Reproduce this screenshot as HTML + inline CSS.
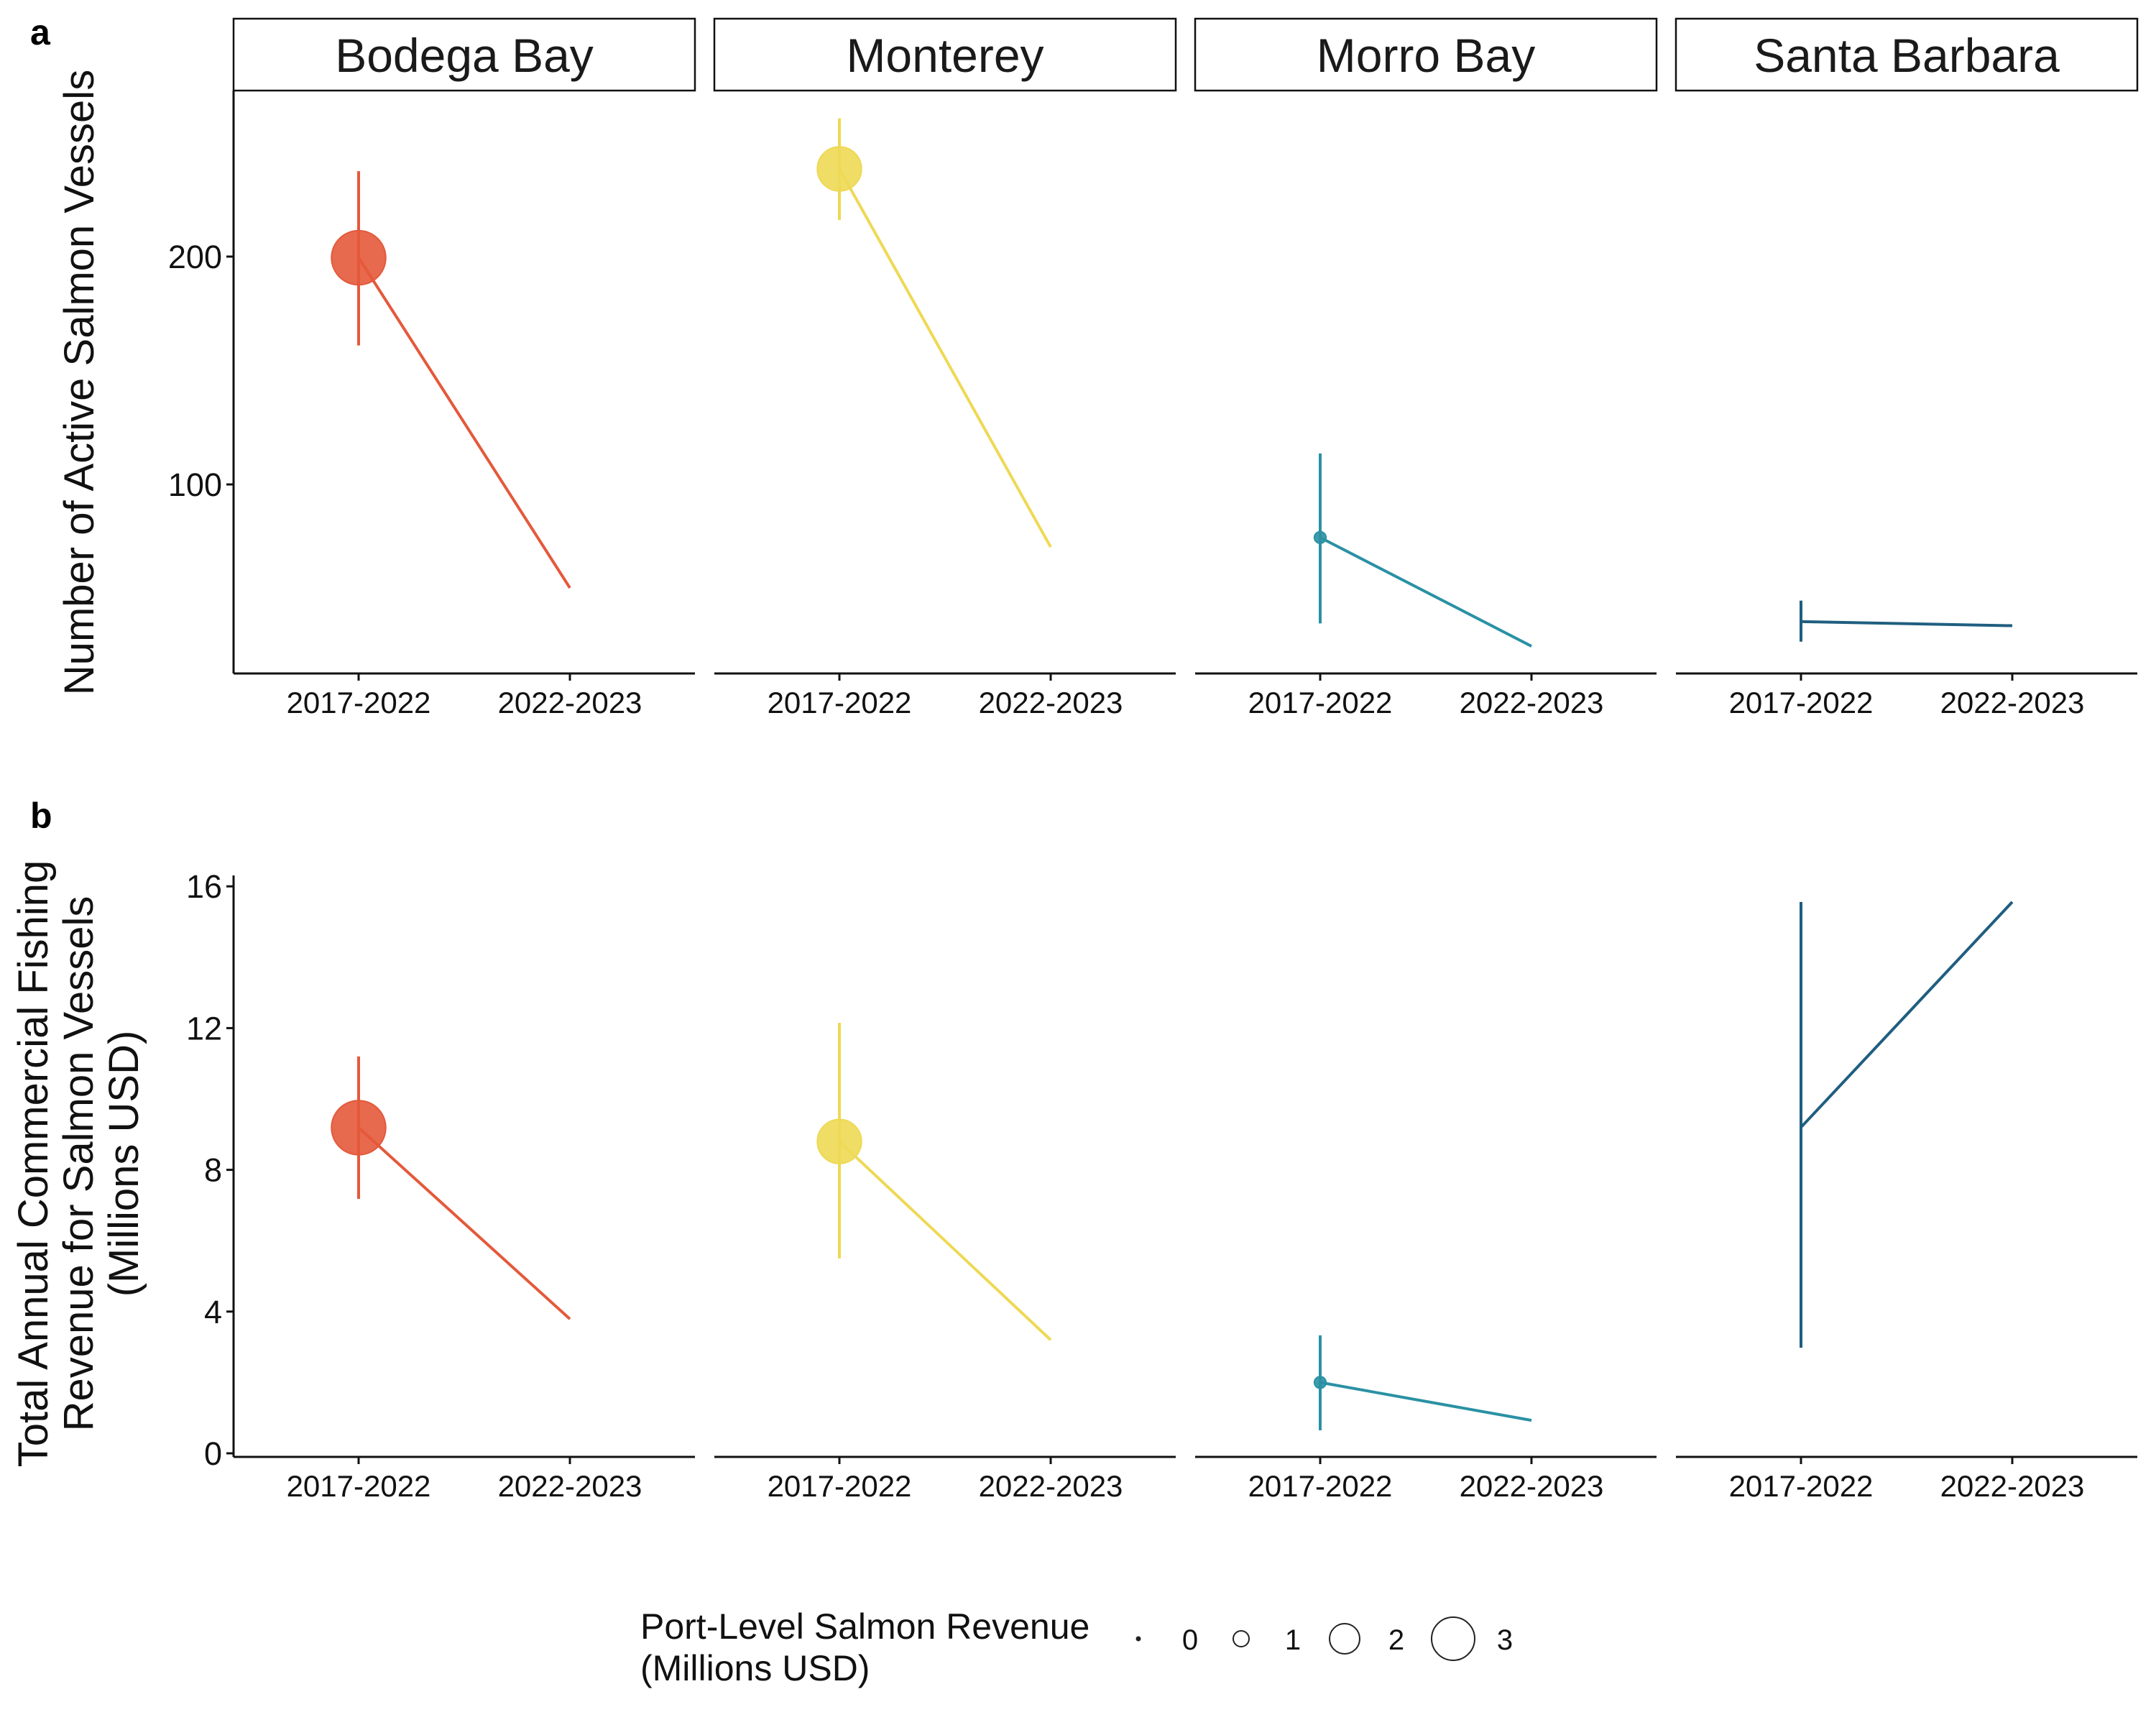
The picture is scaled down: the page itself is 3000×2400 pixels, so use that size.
<!DOCTYPE html>
<html><head><meta charset="utf-8">
<style>
html,body{margin:0;padding:0;background:#fff;}
svg{display:block;font-family:"Liberation Sans",Arial,sans-serif;}
</style></head>
<body>
<svg id="chart" width="3000" height="2400" viewBox="0 0 3000 2400" xmlns="http://www.w3.org/2000/svg">
  <text x="42" y="62" font-size="50" font-weight="bold">a</text>
  <text x="42" y="1152" font-size="50" font-weight="bold">b</text>
  <text transform="translate(130,532) rotate(-90)" text-anchor="middle" font-size="58" fill="#111">Number of Active Salmon Vessels</text>
  <g transform="translate(0,1619) rotate(-90)" text-anchor="middle" font-size="58" fill="#111">
    <text x="0" y="66">Total Annual Commercial Fishing</text>
    <text x="0" y="129">Revenue for Salmon Vessels</text>
    <text x="0" y="192">(Millions USD)</text>
  </g>
  <g id="panels"></g>
  <g id="legend">
    <text x="891" y="2280" font-size="50" fill="#111">Port-Level Salmon Revenue</text>
    <text x="891" y="2338" font-size="50" fill="#111">(Millions USD)</text>
  </g>
</svg>
<script>
const ports = ["Bodega Bay","Monterey","Morro Bay","Santa Barbara"];
const periods = ["2017-2022","2022-2023"];
const colors = ["#e4593b","#eed955","#2a91a4","#1f5e80"];
const vesselMean = [[199.5,54.6],[238.5,72.5],[76.7,29],[39.8,38]];
const vesselLo = [161,216,39,31];
const vesselHi = [237.5,260.7,113.6,49];
const revMean = [[9.19,3.79],[8.8,3.2],[2.0,0.93],[9.2,15.56]];
const revLo = [7.18,5.5,0.65,2.98];
const revHi = [11.2,12.15,3.33,15.56];
const portRevenue = [6.5,4.3,0.3,0];
const yTicksA = [100,200];
const yTicksB = [0,4,8,12,16];
const legendVals = [0,1,2,3];

const NS="http://www.w3.org/2000/svg";
function el(tag,attrs,parent){const e=document.createElementNS(NS,tag);for(const k in attrs)e.setAttribute(k,attrs[k]);parent.appendChild(e);return e;}
const panelsG=document.getElementById('panels');
const panelLeft=[325,994,1663,2332], panelW=642;
function xPos(p,i){return panelLeft[p]+174+i*294;}
const yA=v=>357-(v-200)*3.17;
const yB=v=>2022-v*49.3;
function rSize(v){return v<=0?0:14.8*Math.sqrt(v);}

ports.forEach((name,p)=>{
  const L=panelLeft[p];
  const g=el('g',{},panelsG);
  
  
  const strip=el('rect',{x:L,y:26,width:panelW,height:100,fill:'#fff',stroke:'#111','stroke-width':2.5},g);
  
  
  const st=el('text',{x:L+panelW/2,y:100,'text-anchor':'middle','font-size':66,fill:'#1a1a1a'},g);
  st.textContent=name;
  
  
  [[126,937,yA,yTicksA,vesselMean,vesselLo,vesselHi,992,'a'],[1218,2027,yB,yTicksB,revMean,revLo,revHi,2082,'b']].forEach(cfg=>{
    const [top,bot,yf,ticks,mean,lo,hi,labY,tag]=cfg;
    const xa=el('line',{x1:L,x2:L+panelW,y1:bot,y2:bot,stroke:'#111','stroke-width':3},g);
    
    
    if(p===0){
      const ya=el('line',{x1:L,x2:L,y1:top,y2:bot,stroke:'#111','stroke-width':3},g);
      
      
      ticks.forEach(t=>{
        el('line',{x1:L-10,x2:L,y1:yf(t),y2:yf(t),stroke:'#111','stroke-width':3},g);
        const tx=el('text',{x:L-16,y:yf(t)+16,'text-anchor':'end','font-size':45,fill:'#111'},g);
        tx.textContent=t;
        
        
      });
    }
    periods.forEach((per,i)=>{
      el('line',{x1:xPos(p,i),x2:xPos(p,i),y1:bot,y2:bot+10,stroke:'#111','stroke-width':3},g);
      const tx=el('text',{x:xPos(p,i),y:labY,'text-anchor':'middle','font-size':42,fill:'#111'},g);
      tx.textContent=per;
      
      
    });
    const eb=el('line',{x1:xPos(p,0),x2:xPos(p,0),y1:yf(lo[p]),y2:yf(hi[p]),stroke:colors[p],'stroke-width':4},g);
    
    
    const ln=el('line',{x1:xPos(p,0),y1:yf(mean[p][0]),x2:xPos(p,1),y2:yf(mean[p][1]),stroke:colors[p],'stroke-width':4},g);
    
    
    const r=rSize(portRevenue[p]);
    if(r>0){
      const c=el('circle',{cx:xPos(p,0),cy:yf(mean[p][0]),r:r,fill:colors[p],'fill-opacity':0.9,stroke:colors[p],'stroke-width':2},g);
      
      
    }
  });
});

const lg=document.getElementById('legend');
const legX=[1584,1727,1871,2022];
legendVals.forEach((v,i)=>{
  const r=v===0?2.5:[0,11,21,30][i];
  const c=el('circle',{cx:legX[i],cy:2280,r:r,fill:v===0?'#222':'none',stroke:'#222','stroke-width':2},lg);
  
  
  const t=el('text',{x:legX[i]+72,y:2295,'font-size':40,fill:'#111','text-anchor':'middle'},lg);
  t.textContent=v;
  
  
});
</script>
</body></html>
